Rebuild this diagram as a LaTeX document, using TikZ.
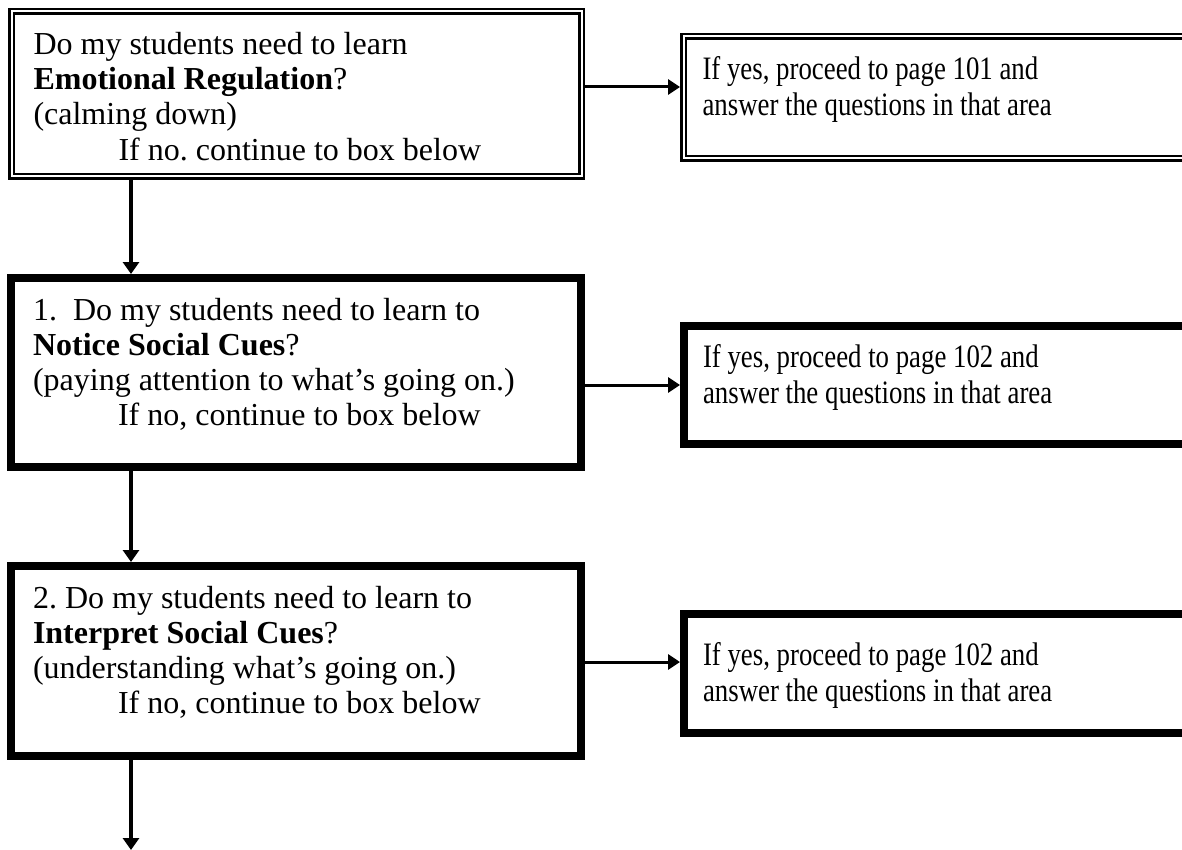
\documentclass[tikz,border=0pt]{standalone}
\usepackage{fontspec}
\setmainfont{Liberation Serif}
\newfontfamily\narrowserif{Liberation Serif}[FakeStretch=0.82]
\usetikzlibrary{arrows.meta}

\begin{document}
\frenchspacing
\begin{tikzpicture}[x=1pt,y=-1pt,
  every node/.style={font=\fontsize{32}{35.3}\selectfont, anchor=north west, inner ysep=0pt},
  askbox/.style={draw, line width=8pt, outer sep=4pt, inner xsep=22pt},
  dblbox/.style={draw, line width=2.5pt, double, double distance=2pt, outer sep=3.5pt},
  yesbox/.style={inner xsep=19pt, font=\narrowserif\fontsize{32.7}{36}\selectfont},
  flow/.style={line width=3pt, -{Triangle[length=12pt,width=15pt]}},
  down/.style={line width=4pt, -{Triangle[length=12pt,width=16pt]}}]
\useasboundingbox (0,0) rectangle (1182,850);
\clip (0,0) rectangle (1182,850);

% left column
\node[dblbox, inner xsep=22pt, text height=42.8pt, text depth=122.2pt] (b1) at (8,8)
  {\parbox[t]{526pt}{Do my students need to learn\\\textbf{Emotional Regulation}?\\(calming down)\\\hspace*{85pt}If no.\ continue to box below}};
\node[askbox, text height=42pt, text depth=147pt] (b2) at (7,274)
  {\parbox[t]{526pt}{1.\ \ Do my students need to learn to\\\textbf{Notice Social Cues}?\\(paying attention to what's going on.)\\\hspace*{85pt}If no, continue to box below}};
\node[askbox, text height=42pt, text depth=148pt] (b3) at (7,562)
  {\parbox[t]{526pt}{2.\ Do my students need to learn to\\\textbf{Interpret Social Cues}?\\(understanding what's going on.)\\\hspace*{85pt}If no, continue to box below}};

% right column
\node[dblbox, yesbox, text height=43.5pt, text depth=78.5pt] (y1) at (680,33)
  {\parbox[t]{478pt}{If yes, proceed to page 101 and\\answer the questions in that area}};
\node[askbox, yesbox, text height=41pt, text depth=77pt] (y2) at (680,322)
  {\parbox[t]{478pt}{If yes, proceed to page 102 and\\answer the questions in that area}};
\node[askbox, yesbox, text height=51pt, text depth=68pt] (y3) at (680,610)
  {\parbox[t]{478pt}{If yes, proceed to page 102 and\\answer the questions in that area}};

\coordinate (spine) at (131,0);
\coordinate (bottom) at (131,850);

\draw[down] (spine |- b1.south) -- (spine |- b2.north);
\draw[down] (spine |- b2.south) -- (spine |- b3.north);
\draw[down] (spine |- b3.south) -- (bottom);

\draw[flow] ([yshift=7pt]b1.east) -- ([yshift=10.5pt]y1.west);
\draw[flow] ([yshift=-12.5pt]b2.east) -- (y2.west);
\draw[flow] ([yshift=-1pt]b3.east) -- ([yshift=11.5pt]y3.west);

\end{tikzpicture}
\end{document}
